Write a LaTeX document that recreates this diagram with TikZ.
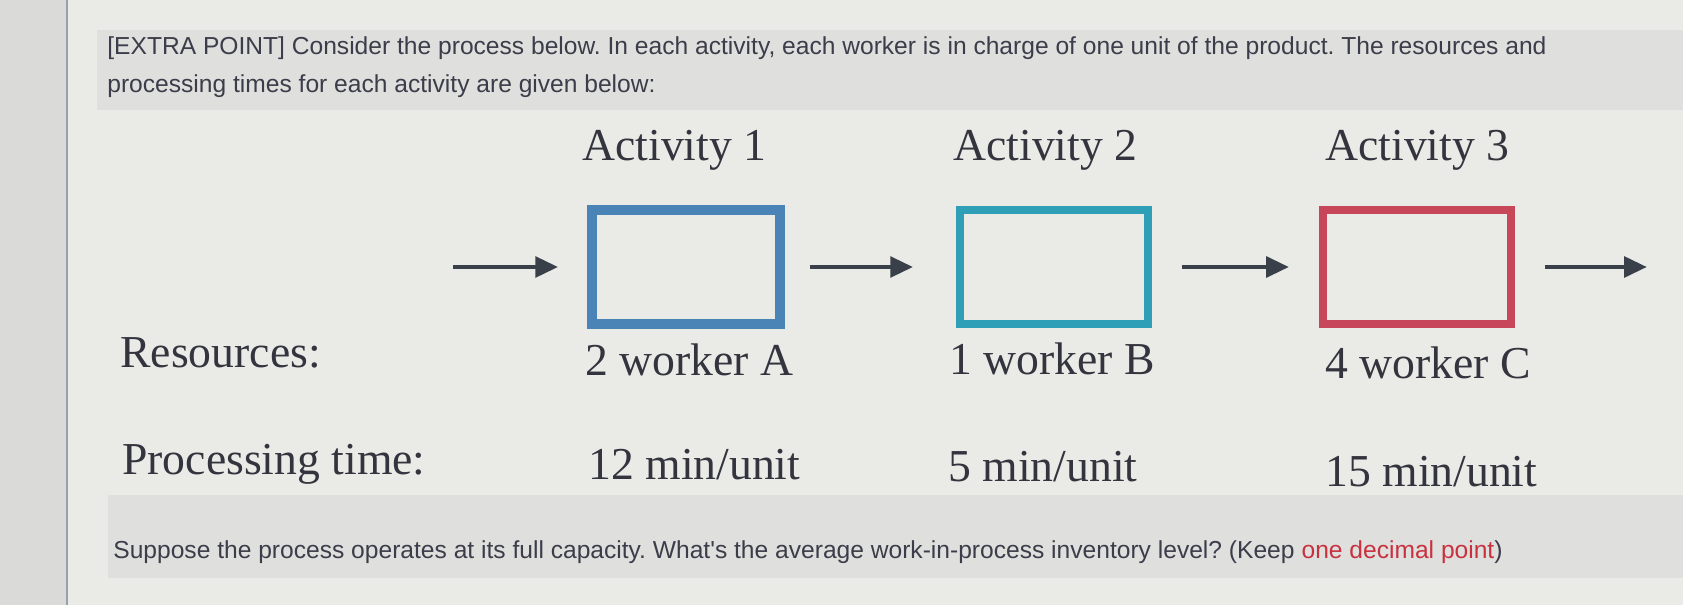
\documentclass[tikz,border=0pt]{standalone}
\usepackage{fontspec}
\setmainfont{Liberation Serif}
\newfontfamily\uisans{Liberation Sans}
\usepackage{tikz}
\usetikzlibrary{arrows.meta}
\definecolor{ink}{HTML}{34343F}
\definecolor{uiink}{HTML}{3C3D4A}
\definecolor{flowc}{HTML}{3A4049}
\definecolor{boxa}{HTML}{4A84B6}
\definecolor{boxb}{HTML}{2E9FB6}
\definecolor{boxc}{HTML}{C84659}
\definecolor{hint}{HTML}{C8323F}
\definecolor{marginc}{HTML}{DADBD9}
\definecolor{pagec}{HTML}{EAEBE6}
\definecolor{bandc}{HTML}{DFDFDD}
\definecolor{edgec}{HTML}{98A0AC}
\frenchspacing

\begin{document}
\begin{tikzpicture}
[
    x = 0.02cm, y = -0.02cm,
    act/.style = {draw, minimum width = 3.76cm, minimum height = 2.28cm, inner sep = 0pt},
    lbl/.style = {anchor = base west, inner sep = 0pt, text = ink, font = \fontsize{26}{30}\selectfont},
    txt/.style = {anchor = base west, inner sep = 0pt, text = uiink, font = \uisans\fontsize{14}{17}\selectfont},
    flow/.style = {-{Triangle[length = 13pt, width = 11.5pt]}, line width = 2.8pt, draw = flowc}
]
\useasboundingbox (0,0) rectangle (1683,605);
\fill[marginc] (0,0) rectangle (1683,605);
\fill[pagec] (67,0) rectangle (1683,605);
\fill[bandc] (97,30) rectangle (1683,110);
\fill[bandc] (108,495) rectangle (1683,578);
\draw[edgec, line width = 1.5pt] (67,0) -- (67,605);

\node[txt] (intro1) at (107,54) {[EXTRA POINT] Consider the process below. In each activity, each worker is in charge of one unit of the product. The resources and};
\node[txt] (intro2) at (107,92) {processing times for each activity are given below:};

\node[act, draw = boxa, line width = 5.5pt] (box1) at (686,267) {};
\node[act, draw = boxb, line width = 5pt] (box2) at (1054,267) {};
\node[act, draw = boxc, line width = 4.5pt] (box3) at (1417,267) {};

\node[lbl] (act1) at (582,160) {Activity 1};
\node[lbl] (act2) at (953,160) {Activity 2};
\node[lbl] (act3) at (1325,160) {Activity 3};

\node[lbl] (res) at (120,367) {Resources:};
\node[lbl] (wrkA) at (585,375) {2 worker A};
\node[lbl] (wrkB) at (949,374) {1 worker B};
\node[lbl] (wrkC) at (1325,378) {4 worker C};

\node[lbl] (ptime) at (122,474) {Processing time:};
\node[lbl] (timeA) at (588,479) {12 min/unit};
\node[lbl] (timeB) at (948,481) {5 min/unit};
\node[lbl] (timeC) at (1325,486) {15 min/unit};

\coordinate (in) at (453,267);
\coordinate (out) at (1647,267);
\draw[flow, shorten > = 0.58cm] (in) -- (box1.west);
\draw[flow, shorten < = 0.5cm, shorten > = 0.85cm] (box1.east) -- (box2.west);
\draw[flow, shorten < = 0.6cm, shorten > = 0.6cm] (box2.east) -- (box3.west);
\draw[flow, shorten < = 0.6cm] (box3.east) -- (out);

\node[txt] (ask) at (113,558) {Suppose the process operates at its full capacity. What's the average work-in-process inventory level? (Keep \textcolor{hint}{one decimal point})};
\end{tikzpicture}
\end{document}
